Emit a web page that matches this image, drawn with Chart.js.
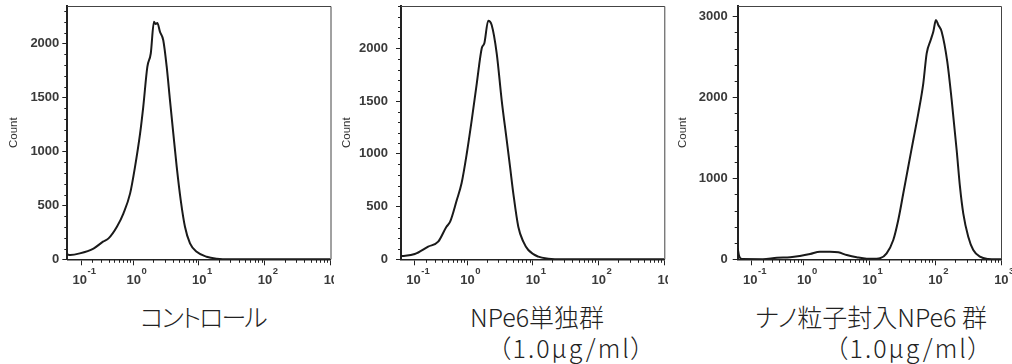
<!DOCTYPE html>
<html>
<head>
<meta charset="utf-8">
<script src="https://cdn.jsdelivr.net/npm/chart.js@4/dist/chart.umd.min.js"></script>
<style>
  html, body { margin: 0; padding: 0; background: #fff; }
  body { width: 1012px; height: 364px; position: relative; overflow: hidden; }
  canvas { position: absolute; top: 0; }
  .cap {
    position: absolute; font-family: "Noto Sans CJK JP", sans-serif;
    font-size: 25px; font-weight: 300; line-height: 1; color: #222; white-space: nowrap;
    font-feature-settings: "palt";
  }
  .unit { letter-spacing: 2px; }
</style>
</head>
<body>
<canvas id="h1" width="334" height="292" style="left:0px"></canvas>
<canvas id="h2" width="334" height="292" style="left:334px"></canvas>
<canvas id="h3" width="344" height="292" style="left:668px"></canvas>
<div class="cap" style="left:140px;top:304px;letter-spacing:-2px">コントロール</div>
<div class="cap" style="left:470px;top:304px">NPe6単独群</div>
<div class="cap unit" style="left:498px;top:335px">（1.0μg/ml）</div>
<div class="cap" style="left:755px;top:304px">ナノ粒子封入NPe6 群</div>
<div class="cap unit" style="left:835px;top:335px">（1.0μg/ml）</div>
<script>
// histogram data (fluorescence intensity vs count)
const xs1 = [0, 0.02, 0.09, 0.21, 0.32, 0.40, 0.55, 0.70, 0.89, 1.06, 1.27, 1.42, 1.64, 1.85, 2.07, 2.2, 2.33, 2.56, 2.87, 3.24, 3.63, 4.08, 4.6, 5.29, 6.14, 7.32, 9.25, 13.1, 18.6, 30, 1000];
const ys1 = [45, 40, 55, 100, 163, 194, 302, 426, 611, 857, 1167, 1413, 1783, 1907, 2200, 2180, 2190, 2107, 2030, 1783, 1475, 1167, 857, 549, 302, 148, 70, 24, 6, 0, 0];

const xs2 = [0, 0.01, 0.10, 0.22, 0.34, 0.47, 0.54, 0.69, 0.82, 0.99, 1.18, 1.41, 1.68, 1.84, 2.11, 2.38, 2.84, 3.38, 4.03, 4.53, 5.08, 6.05, 7.21, 8.59, 12.2, 17.3, 30, 1000];
const ys2 = [30, 31, 50, 120, 167, 309, 357, 563, 721, 1006, 1322, 1670, 2002, 2049, 2264, 2223, 1954, 1511, 1132, 879, 626, 309, 167, 88, 25, 6, 0, 0];

const xs3 = [0, 0.01, 0.03, 0.2, 0.37, 0.61, 0.87, 1.25, 1.77, 2.52, 3.37, 4.53, 6.42, 9.11, 12.9, 14.5, 18.3, 23.1, 27.5, 32.8, 39.0, 46.5, 55.4, 66.0, 74.3, 85.5, 93.6, 102.8, 111.5, 125.5, 152.7, 178, 212, 238, 267, 318, 379, 479, 641, 859, 1000];
const ys3 = [136, 40, 3, 2, 20, 25, 41, 65, 94, 94, 86, 53, 25, 8, 8, 12, 74, 238, 485, 815, 1143, 1473, 1802, 2173, 2543, 2707, 2810, 2954, 2893, 2810, 2440, 1967, 1349, 896, 568, 279, 115, 32, 4, 0, 0];

// tick labels
const xTicks = [0.1, 1, 10, 100, 1000];
const xExps = ["-1", "0", "1", "2", "3"];
const yTicks12 = [0, 500, 1000, 1500, 2000];
const yTicks3 = [0, 1000, 2000, 3000];
const yTitle = "Count";

// biexponential-like display scale (asinh), as used by flow cytometry software
const COF = 0.2;
class AsinhScale extends Chart.Scale {
  static id = "asinh";
  static defaults = {};
  determineDataLimits() {
    this.min = this.options.min;
    this.max = this.options.max;
  }
  buildTicks() {
    return xTicks.map(v => ({ value: v }));
  }
  configure() {
    super.configure();
    this._startValue = Math.asinh(this.min / COF);
    this._valueRange = Math.asinh(this.max / COF) - this._startValue;
  }
  getPixelForValue(value) {
    return this.getPixelForDecimal((Math.asinh(value / COF) - this._startValue) / this._valueRange);
  }
  getValueForPixel(pixel) {
    return COF * Math.sinh(this._startValue + this.getDecimalForPixel(pixel) * this._valueRange);
  }
}
Chart.register(AsinhScale);

Chart.defaults.font.family = "'Liberation Sans', Arial, sans-serif";
Chart.defaults.color = "#333";
const LBL = "'Liberation Sans', Arial, sans-serif";

// box frame, minor ticks and 10^n labels
const framePlugin = {
  id: "frame",
  afterDraw(chart, args, opts) {
    const { ctx, chartArea: a } = chart;
    const xs = chart.scales.x, ys = chart.scales.y;
    ctx.save();
    ctx.strokeStyle = "#444";
    ctx.lineWidth = 1;
    ctx.beginPath();
    ctx.moveTo(a.left, a.top + 0.5);
    ctx.lineTo(a.right + 0.5, a.top + 0.5);
    ctx.lineTo(a.right + 0.5, a.bottom);
    ctx.stroke();

    ctx.strokeStyle = "#222";
    ctx.beginPath();
    for (let d = 0.1; d < 1000; d *= 10) {
      for (let k = 2; k <= 9; k++) {
        const px = Math.round(xs.getPixelForValue(d * k)) + 0.5;
        ctx.moveTo(px, a.bottom);
        ctx.lineTo(px, a.bottom + 3.5);
      }
    }
    for (let v = opts.minor; v < ys.max; v += opts.minor) {
      if (v % opts.major === 0) continue;
      const py = Math.round(ys.getPixelForValue(v)) + 0.5;
      ctx.moveTo(a.left - 3, py);
      ctx.lineTo(a.left, py);
    }
    ctx.stroke();

    ctx.fillStyle = "#3a3a3a";
    ctx.textBaseline = "alphabetic";
    xTicks.forEach((v, i) => {
      const px = xs.getPixelForValue(v);
      ctx.font = "600 13px " + LBL;
      const w1 = ctx.measureText("10").width;
      ctx.font = "600 9.5px " + LBL;
      const w2 = ctx.measureText(xExps[i]).width;
      const x0 = px + 3 - (w1 + w2) / 2;
      ctx.font = "600 13px " + LBL;
      ctx.fillText("10", x0, a.bottom + 25);
      ctx.font = "600 9.5px " + LBL;
      ctx.fillText(xExps[i], x0 + w1 + 0.5, a.bottom + 14.5);
    });
    ctx.restore();
  }
};

function makeHist(id, xs, ys, cfg) {
  new Chart(document.getElementById(id), {
    type: "line",
    data: {
      datasets: [{
        data: xs.map((x, i) => ({ x: x, y: ys[i] })),
        borderColor: "#1a1a1a",
        borderWidth: 2,
        pointRadius: 0,
        fill: false,
        cubicInterpolationMode: "monotone"
      }]
    },
    options: {
      responsive: false,
      devicePixelRatio: 1,
      animation: false,
      events: [],
      layout: { padding: { top: 6, left: 0, right: cfg.padRight, bottom: 6.7 } },
      plugins: { legend: { display: false }, tooltip: { enabled: false }, frame: cfg.frame },
      scales: {
        x: {
          type: "asinh",
          position: "bottom",
          min: 0,
          max: 1000,
          ticks: { display: false },
          grid: { display: true, drawOnChartArea: false, tickLength: 6, color: "#222", lineWidth: 1 },
          border: { display: true, color: "#222", width: 1.5 },
          afterFit: s => { s.height = 26; s.paddingLeft = 0; s.paddingRight = 0; }
        },
        y: {
          type: "linear",
          min: 0,
          max: cfg.yMax,
          afterBuildTicks: s => { s.ticks = cfg.yTicks.map(v => ({ value: v })); },
          ticks: { padding: cfg.labelPad, font: { size: 13, weight: 600 }, color: "#3a3a3a", callback: v => String(v) },
          grid: { display: true, drawOnChartArea: false, tickLength: 5, color: "#222", lineWidth: 1 },
          border: { display: true, color: "#222", width: 2 },
          title: { display: true, text: yTitle, font: { size: 11.5 }, color: "#333", padding: { top: cfg.titlePad, bottom: 0 } },
          afterFit: s => { s.width = cfg.yWidth; s.paddingTop = 0; s.paddingBottom = 0; }
        }
      }
    },
    plugins: [framePlugin]
  });
}

makeHist("h1", xs1, ys1, { yMax: 2347, yTicks: yTicks12, yWidth: 67.3, padRight: 3.5, labelPad: 3, titlePad: 7, frame: { minor: 100, major: 500 } });
makeHist("h2", xs2, ys2, { yMax: 2403, yTicks: yTicks12, yWidth: 67, padRight: 3.7, labelPad: 8, titlePad: 6, frame: { minor: 100, major: 500 } });
makeHist("h3", xs3, ys3, { yMax: 3127, yTicks: yTicks3, yWidth: 69.7, padRight: 11, labelPad: 5, titlePad: 7.5, frame: { minor: 200, major: 1000 } });
</script>
</body>
</html>
